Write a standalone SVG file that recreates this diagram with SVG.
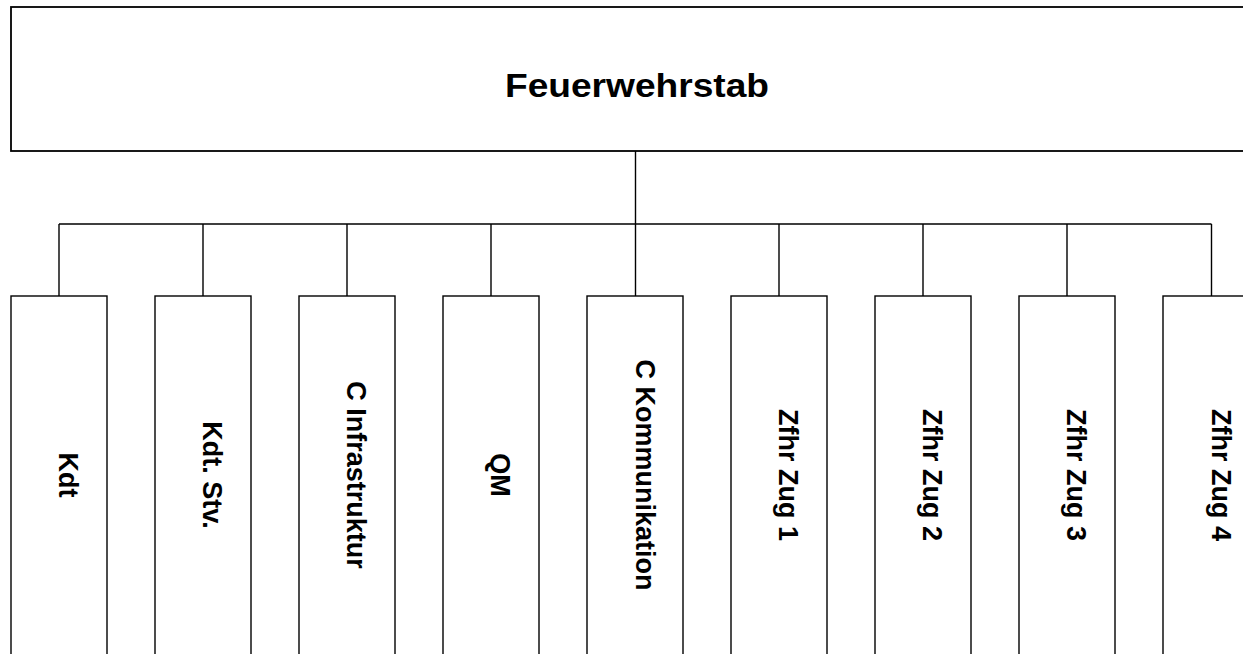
<svg xmlns="http://www.w3.org/2000/svg" width="1243" height="654" viewBox="0 0 1243 654">
<style>
.box{fill:#fff;stroke:#000;stroke-width:1.4}
.top{fill:#fff;stroke:#000;stroke-width:1.8}
.conn{fill:none;stroke:#000;stroke-width:1.4}
.lbl{font-family:"Liberation Sans",Arial,sans-serif;font-weight:bold;font-size:27px;fill:#000;text-anchor:middle}
.ttl{font-family:"Liberation Sans",Arial,sans-serif;font-weight:bold;font-size:34px;fill:#000;text-anchor:middle}
</style>
<rect width="1243" height="654" fill="#fff"/>
<g id="connectors">
<path class="conn" d="M635.5 151V224M59 224H1211.5M59 224V296M203 224V296M347 224V296M491 224V296M635.5 224V296M779 224V296M923 224V296M1067 224V296M1211.5 224V296"/>
</g>
<g id="feuerwehrstab">
<rect class="top" x="11" y="7" width="1248" height="144"/>
<text class="ttl" x="637" y="97" textLength="264" lengthAdjust="spacingAndGlyphs">Feuerwehrstab</text>
</g>
<g id="kdt">
<rect class="box" x="11" y="296" width="96" height="370"/>
<text class="lbl" transform="translate(59,475) rotate(90)">Kdt</text>
</g>
<g id="kdt-stv">
<rect class="box" x="155" y="296" width="96" height="370"/>
<text class="lbl" transform="translate(203,475) rotate(90)">Kdt. Stv.</text>
</g>
<g id="c-infrastruktur">
<rect class="box" x="299" y="296" width="96" height="370"/>
<text class="lbl" transform="translate(347,475) rotate(90)">C Infrastruktur</text>
</g>
<g id="qm">
<rect class="box" x="443" y="296" width="96" height="370"/>
<text class="lbl" transform="translate(491,475) rotate(90)">QM</text>
</g>
<g id="c-kommunikation">
<rect class="box" x="587" y="296" width="96" height="370"/>
<text class="lbl" transform="translate(635.5,475) rotate(90)">C Kommunikation</text>
</g>
<g id="zfhr-zug-1">
<rect class="box" x="731" y="296" width="96" height="370"/>
<text class="lbl" transform="translate(779,475) rotate(90)">Zfhr Zug 1</text>
</g>
<g id="zfhr-zug-2">
<rect class="box" x="875" y="296" width="96" height="370"/>
<text class="lbl" transform="translate(923,475) rotate(90)">Zfhr Zug 2</text>
</g>
<g id="zfhr-zug-3">
<rect class="box" x="1019" y="296" width="96" height="370"/>
<text class="lbl" transform="translate(1067,475) rotate(90)">Zfhr Zug 3</text>
</g>
<g id="zfhr-zug-4">
<rect class="box" x="1163" y="296" width="96" height="370"/>
<text class="lbl" transform="translate(1211.5,475) rotate(90)">Zfhr Zug 4</text>
</g>
</svg>
